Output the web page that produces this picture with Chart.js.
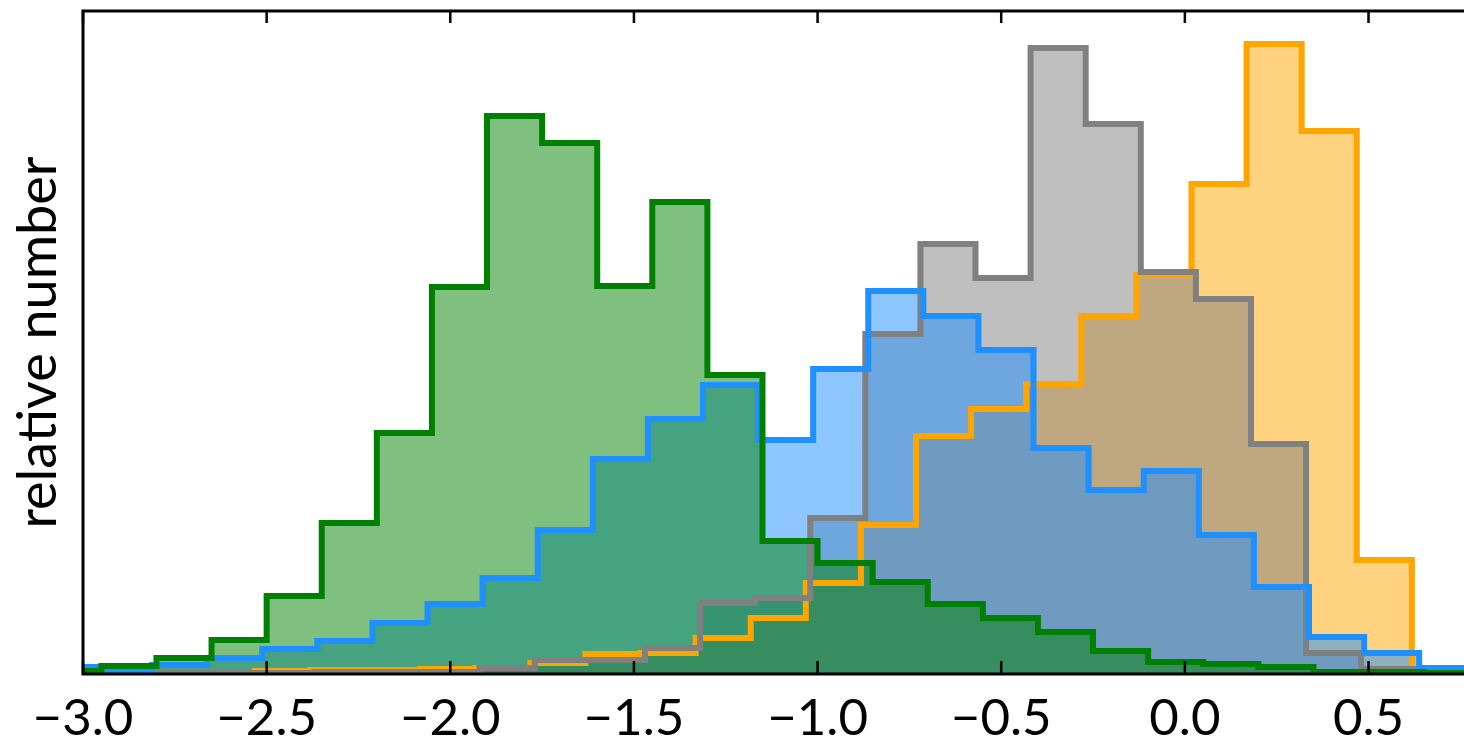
<!DOCTYPE html>
<html>
<head>
<meta charset="utf-8">
<script src="https://cdn.jsdelivr.net/npm/chart.js@4.4.1/dist/chart.umd.min.js"></script>
<style>
  html, body { margin: 0; padding: 0; background: #ffffff; }
  #wrap { width: 1464px; height: 737px; position: relative; }
  #hist { display: block; }
</style>
</head>
<body>
<div id="wrap"><canvas id="hist" width="1464" height="737"></canvas></div>
<script>
// Bin edges (x) and bin heights (relative number) of the four samples.
const greenEdges = [-3.1, -2.95, -2.8, -2.65, -2.5, -2.35, -2.2, -2.05, -1.9, -1.75, -1.6, -1.45, -1.3,
  -1.15, -1.0, -0.85, -0.7, -0.55, -0.4, -0.25, -0.1, 0.05, 0.2, 0.35, 0.5, 0.65, 0.8];
const greenCounts = [3, 8, 16, 34, 78, 151, 241, 387, 558, 531, 388, 472, 299,
  133, 111, 92, 70, 56, 42, 23, 12, 10, 7, 2, 2, 1];

const blueEdges = [-3.112, -2.962, -2.812, -2.662, -2.512, -2.362, -2.212, -2.062, -1.912, -1.762, -1.612,
  -1.462, -1.312, -1.162, -1.012, -0.862, -0.712, -0.562, -0.412, -0.262, -0.112, 0.038, 0.188, 0.338,
  0.488, 0.638, 0.788];
const blueCounts = [7, 3, 9, 16, 25, 33, 51, 70, 96, 144, 215, 255, 289, 234, 305, 383, 358, 324, 226,
  184, 203, 139, 87, 37, 21, 6];

const grayEdges = [-2.97, -2.82, -2.67, -2.52, -2.37, -2.22, -2.07, -1.92, -1.77, -1.62, -1.47, -1.32,
  -1.17, -1.02, -0.87, -0.72, -0.57, -0.42, -0.27, -0.12, 0.03, 0.18, 0.33, 0.48, 0.63, 0.78];
const grayCounts = [1, 1, 1, 1, 2, 2, 2, 6, 14, 14, 26, 71, 76, 156, 340, 430, 396, 626, 550, 402, 375,
  230, 21, 5, 2];

const orangeEdges = [-2.532, -2.382, -2.232, -2.082, -1.932, -1.782, -1.632, -1.482, -1.332, -1.182,
  -1.032, -0.882, -0.732, -0.582, -0.432, -0.282, -0.132, 0.018, 0.168, 0.318, 0.468, 0.618];
const orangeCounts = [3, 4, 4, 5, 6, 11, 20, 21, 36, 56, 91, 149, 238, 265, 290, 358, 399, 490, 630,
  543, 114];

const xTicks = [-3.0, -2.5, -2.0, -1.5, -1.0, -0.5, 0.0, 0.5];
const xMin = -3.0, xMax = 0.76;
const yMax = 663;

// Outline of a filled step histogram: rise at the first edge, one step per bin, drop at the last edge.
function stepOutline(edges, counts) {
  const pts = [{ x: edges[0], y: 0 }];
  counts.forEach((c, i) => pts.push({ x: edges[i], y: c }));
  pts.push({ x: edges[edges.length - 1], y: 0 });
  return pts;
}

function histDataset(edges, counts, line, fill, order) {
  return {
    data: stepOutline(edges, counts),
    stepped: 'before',
    borderColor: line,
    backgroundColor: fill,
    borderWidth: 6,
    borderJoinStyle: 'miter',
    borderCapStyle: 'butt',
    fill: 'origin',
    pointRadius: 0,
    pointHoverRadius: 0,
    clip: 0,
    order: order
  };
}

const fmt = v => (Math.abs(v) < 1e-9 ? '0.0' : v.toFixed(1).replace('-', '\u2212'));

// Spines on left, top and bottom with inward tick marks on top and bottom.
const framePlugin = {
  id: 'frame',
  afterDatasetsDraw(chart) {
    const { ctx, chartArea: a, scales: { x } } = chart;
    ctx.save();
    ctx.strokeStyle = '#000';
    ctx.lineWidth = 3;
    ctx.beginPath();
    ctx.moveTo(a.left, a.top); ctx.lineTo(a.right + 2, a.top);
    ctx.moveTo(a.left, a.top - 1.5); ctx.lineTo(a.left, a.bottom + 1.5);
    ctx.moveTo(a.left, a.bottom); ctx.lineTo(a.right + 2, a.bottom);
    ctx.stroke();
    ctx.lineWidth = 2.5;
    ctx.beginPath();
    xTicks.forEach(v => {
      const px = x.getPixelForValue(v);
      ctx.moveTo(px, a.bottom); ctx.lineTo(px, a.bottom - 13);
      ctx.moveTo(px, a.top); ctx.lineTo(px, a.top + 12);
    });
    ctx.stroke();
    ctx.restore();
  }
};

new Chart(document.getElementById('hist'), {
  type: 'line',
  data: {
    datasets: [
      histDataset(greenEdges, greenCounts, '#008000', 'rgba(0,128,0,0.5)', 1),
      histDataset(blueEdges, blueCounts, '#1e90ff', 'rgba(30,144,255,0.5)', 2),
      histDataset(grayEdges, grayCounts, '#808080', 'rgba(128,128,128,0.5)', 3),
      histDataset(orangeEdges, orangeCounts, '#ffa500', 'rgba(255,165,0,0.5)', 4)
    ]
  },
  options: {
    responsive: false,
    animation: false,
    events: [],
    layout: { padding: { top: 11, right: 0, left: 0, bottom: 0 } },
    plugins: {
      legend: { display: false },
      tooltip: { enabled: false },
      // all translucent fills first, the outlines on top of them
      filler: { drawTime: 'beforeDatasetsDraw' }
    },
    scales: {
      x: {
        type: 'linear',
        min: xMin,
        max: xMax,
        afterBuildTicks: s => { s.ticks = xTicks.map(v => ({ value: v })); },
        afterFit: s => { s.height = 737 - 674; },
        grid: { display: false, drawTicks: false },
        border: { display: false },
        ticks: {
          callback: v => fmt(v),
          color: '#000',
          padding: 14,
          maxRotation: 0,
          autoSkip: false,
          font: { family: 'Lato', size: 51 }
        }
      },
      y: {
        min: 0,
        max: yMax,
        afterFit: s => { s.width = 83; },
        grid: { display: false, drawTicks: false },
        border: { display: false },
        ticks: { display: false },
        title: {
          display: true,
          text: 'relative number',
          color: '#000',
          padding: { top: 6, bottom: 0 },
          font: { family: 'Lato', size: 54 }
        }
      }
    }
  },
  plugins: [framePlugin]
});
</script>
</body>
</html>
